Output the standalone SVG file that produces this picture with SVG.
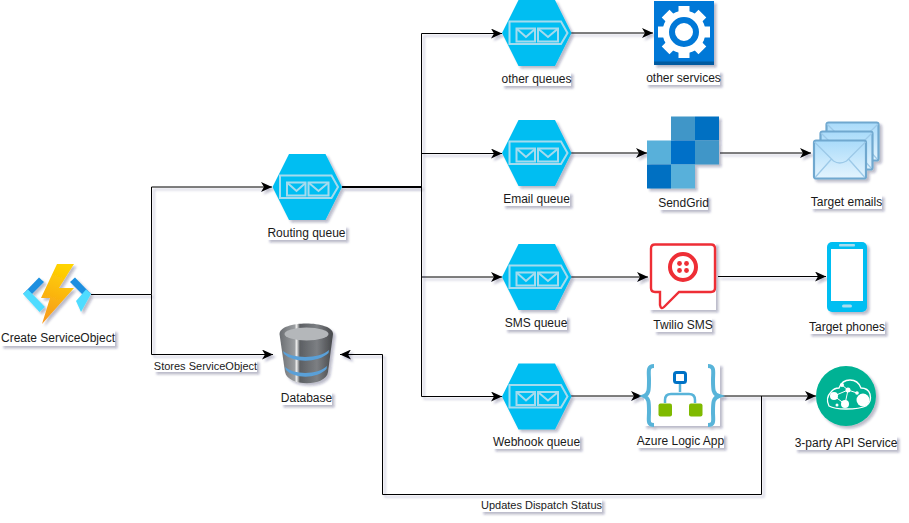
<svg xmlns="http://www.w3.org/2000/svg" xmlns:xlink="http://www.w3.org/1999/xlink" width="909" height="523" viewBox="0 0 909 523">
<style>
text{font-family:"Liberation Sans",Arial,sans-serif;font-size:12px;fill:#1a1a1a;text-anchor:middle}
.bg{fill:#fff}
.lbl,.ico,#connectors{filter:url(#sh)}
.c{fill:none;stroke:#000;stroke-width:1}
.env{fill:none;stroke:#a5dbee;stroke-width:2}
</style>
<defs>
<filter id="sh" x="-20%" y="-20%" width="140%" height="140%" filterUnits="userSpaceOnUse" primitiveUnits="userSpaceOnUse">
<feDropShadow dx="2.5" dy="2.5" stdDeviation="1.3" flood-color="#1a1a50" flood-opacity="0.3"/>
</filter>
<marker id="a" viewBox="0 0 12 10" refX="11" refY="5" markerWidth="12" markerHeight="10" markerUnits="userSpaceOnUse" orient="auto"><path d="M0 0L11 5L0 10L3 5Z" fill="#000"/></marker>
<linearGradient id="bolt" x1="0.6" y1="0" x2="0.4" y2="1"><stop offset="0" stop-color="#ffd400"/><stop offset="1" stop-color="#f79a1e"/></linearGradient>
<linearGradient id="db" x1="0" y1="0" x2="1" y2="0"><stop offset="0" stop-color="#6a6d71"/><stop offset="0.28" stop-color="#9a9da0"/><stop offset="0.32" stop-color="#ececec"/><stop offset="0.38" stop-color="#5c5f63"/><stop offset="0.7" stop-color="#7c7f83"/><stop offset="1" stop-color="#45474a"/></linearGradient>
<linearGradient id="envg" x1="0" y1="0" x2="0" y2="1"><stop offset="0" stop-color="#a9dbfa"/><stop offset="1" stop-color="#e4f4fe"/></linearGradient>
<g id="hex">
<path d="M0 33L16.500 0H53L69.500 33L53 66H16.500Z" fill="#00bef2"/>
<path class="env" d="M7.500 21.500H59L65.500 33L59 44H7.500Z"/>
<rect class="env" x="14.500" y="28.500" width="18.500" height="13"/>
<path class="env" d="M15 29L24 37L33 29"/>
<rect class="env" x="36" y="28.500" width="20" height="13"/>
<path class="env" d="M36.500 29L46 37L55.500 29"/>
</g>
<g id="mail">
<rect x="0.500" y="0.500" width="52" height="38" rx="2" fill="url(#envg)" stroke="#6fa8cf" stroke-width="2.200"/>
<path d="M1 2L20 21Q26 25 33 21L52 2M2 37L18 19M51 37L35 19" fill="none" stroke="#9cc9e8" stroke-width="1.300"/>
</g>
</defs>
<g id="connectors">
<path class="c" d="M91 294.500H151.500V187H272" marker-end="url(#a)"/>
<path class="c" d="M151.500 294.500V354.500H273" marker-end="url(#a)"/>
<path class="c" d="M342 186.500H421.500V33.500H502" marker-end="url(#a)"/>
<path class="c" d="M342 187.500H421.500V153.500H502" marker-end="url(#a)"/>
<path class="c" d="M342 187H421.500V277H502" marker-end="url(#a)"/>
<path class="c" d="M342 187H421.500V396.500H502" marker-end="url(#a)"/>
<path class="c" d="M571 33H653" marker-end="url(#a)"/>
<path class="c" d="M571 153H647" marker-end="url(#a)"/>
<path class="c" d="M571 277H648" marker-end="url(#a)"/>
<path class="c" d="M571 396H642" marker-end="url(#a)"/>
<path class="c" d="M720 153H811" marker-end="url(#a)"/>
<path class="c" d="M718 276.500H826" marker-end="url(#a)"/>
<path class="c" d="M719 396H816" marker-end="url(#a)"/>
<path class="c" d="M761.500 396V494.500H382.500V354.500H340" marker-end="url(#a)"/>
</g>
<g id="create-serviceobject">
<g class="ico">
<path d="M23 294L39 277.500L44 282L32 294Z" fill="#1a8fe0"/>
<path d="M23 294L28 289.500L45 307L39.500 312Z" fill="#50dcff"/>
<path d="M91 294L75 277.500L70 282L82 294Z" fill="#1a8fe0"/>
<path d="M91 294L86 289.500L76 301L81 312Z" fill="#50dcff"/>
<path d="M57 264H74L59 288H74L42 324L50 298H41Z" fill="url(#bolt)"/>
</g>
<g class="lbl"><rect class="bg" x="1" y="330" width="114" height="16"/></g>
<text x="58" y="342">Create ServiceObject</text>
</g>
<g id="routing-queue">
<use href="#hex" x="272.500" y="154" class="ico"/>
<g class="lbl"><rect class="bg" x="267" y="226" width="79" height="14"/></g>
<text x="306.500" y="237">Routing queue</text>
</g>
<g id="database">
<g class="ico">
<path d="M279.500 334C279.500 320 333 320 333 334L328 372C326 387 288 387 285 372Z" fill="url(#db)"/>
<ellipse cx="306.500" cy="334" rx="22" ry="6.500" fill="#b4b7ba"/>
<path d="M283 351C292 359 320 359 329 350L328.500 353C318 363 294 363 284 354Z" fill="#5aa0d8"/>
<path d="M285 367C294 375 318 375 327 366L326.500 369C317 379 295 379 286 370Z" fill="#5aa0d8"/>
</g>
<g class="lbl"><rect class="bg" x="281" y="392" width="51" height="13"/></g>
<text x="306.500" y="402">Database</text>
</g>
<g id="stores-label">
<g class="lbl"><rect class="bg" x="154" y="360" width="103" height="12"/></g>
<text x="205.500" y="369.500" style="font-size:11px">Stores ServiceObject</text>
</g>
<g id="other-queues">
<use href="#hex" x="502" y="0" class="ico"/>
<g class="lbl"><rect class="bg" x="502" y="72" width="69" height="14"/></g>
<text x="536.500" y="83">other queues</text>
</g>
<g id="email-queue">
<use href="#hex" x="502" y="120" class="ico"/>
<g class="lbl"><rect class="bg" x="503" y="192" width="67" height="14"/></g>
<text x="536.500" y="203">Email queue</text>
</g>
<g id="sms-queue">
<use href="#hex" x="502" y="244" class="ico"/>
<g class="lbl"><rect class="bg" x="505" y="316" width="62" height="14"/></g>
<text x="536" y="327">SMS queue</text>
</g>
<g id="webhook-queue">
<use href="#hex" x="502" y="363.500" class="ico"/>
<g class="lbl"><rect class="bg" x="493" y="435" width="87" height="14"/></g>
<text x="536.500" y="446">Webhook queue</text>
</g>
<g id="other-services">
<g class="ico">
<rect x="654" y="1" width="60" height="64" fill="#0078d7"/>
<rect x="654" y="61.500" width="60" height="3.500" fill="#005aa0"/>
<circle cx="684" cy="32" r="21.500" fill="#fff"/>
<g fill="#fff"><path id="t" d="M678.500 6h11v7h-11zM678.500 51h11v7h-11zM658 26.500h7v11h-7zM703 26.500h7v11h-7z"/>
<path d="M678.500 6h11v7h-11zM678.500 51h11v7h-11zM658 26.500h7v11h-7zM703 26.500h7v11h-7z" transform="rotate(45 684 32)"/></g>
<circle cx="684" cy="32" r="12" fill="none" stroke="#0078d7" stroke-width="6"/>
</g>
<g class="lbl"><rect class="bg" x="646" y="71" width="74" height="14"/></g>
<text x="683.500" y="82">other services</text>
</g>
<g id="sendgrid">
<g class="ico">
<rect x="671" y="116.500" width="24" height="24" fill="#3f96c8"/>
<rect x="695" y="116.500" width="24" height="24" fill="#0070c2"/>
<rect x="647" y="140.500" width="24" height="24" fill="#58b0da"/>
<rect x="671" y="140.500" width="24" height="24" fill="#0070c8"/>
<rect x="695" y="140.500" width="24" height="24" fill="#3f96c8"/>
<rect x="647" y="164.500" width="24" height="24" fill="#0070c2"/>
<rect x="671" y="164.500" width="24" height="24" fill="#58b0da"/>
</g>
<g class="lbl"><rect class="bg" x="659" y="196" width="49" height="14"/></g>
<text x="683.500" y="207">SendGrid</text>
</g>
<g id="twilio-sms">
<g class="ico">
<rect x="649" y="243" width="67" height="67" fill="#fff"/>
<path d="M655 244.500H711Q715 244.500 715 248.500V288Q715 292 711 292H679L664 307Q661 310 660 305V292H655Q651 292 651 288V248.500Q651 244.500 655 244.500Z" fill="#fff" stroke="#ee2d36" stroke-width="2.400"/>
<circle cx="683" cy="267" r="13" fill="none" stroke="#ee2d36" stroke-width="4"/>
<circle cx="679.500" cy="263.500" r="2.400" fill="#ee2d36"/><circle cx="686.500" cy="263.500" r="2.400" fill="#ee2d36"/><circle cx="679.500" cy="270.500" r="2.400" fill="#ee2d36"/><circle cx="686.500" cy="270.500" r="2.400" fill="#ee2d36"/>
</g>
<g class="lbl"><rect class="bg" x="654" y="318" width="58" height="14"/></g>
<text x="683" y="329">Twilio SMS</text>
</g>
<g id="azure-logic-app">
<g class="ico">
<rect x="644" y="364" width="76" height="62" fill="#fff"/>
<path d="M654 366C647 366 649 372 649 380C649 390 649 394 644 396C649 398 649 402 649 412C649 420 647 425 654 425" fill="none" stroke="#59b4d9" stroke-width="4"/>
<path d="M708 366C715 366 713 372 713 380C713 390 713 394 719 396C713 398 713 402 713 412C713 420 715 425 708 425" fill="none" stroke="#59b4d9" stroke-width="4"/>
<path d="M680 384V392M665 403V400Q665 394 671 394H689Q695 394 695 400V403" fill="none" stroke="#59b4d9" stroke-width="2.500"/>
<rect x="674.500" y="372.500" width="11" height="10" rx="2" fill="#fff" stroke="#0072c6" stroke-width="3"/>
<rect x="658.500" y="403.500" width="13.500" height="13" rx="2" fill="#7fba00"/>
<rect x="689" y="403.500" width="13.500" height="13" rx="2" fill="#7fba00"/>
</g>
<g class="lbl"><rect class="bg" x="637" y="434" width="87" height="14"/></g>
<text x="680.500" y="445">Azure Logic App</text>
</g>
<g id="target-emails">
<g class="ico"><use href="#mail" x="826" y="122"/><use href="#mail" x="820" y="131"/><use href="#mail" x="813.500" y="140"/></g>
<g class="lbl"><rect class="bg" x="811" y="195" width="71" height="14"/></g>
<text x="846.500" y="206">Target emails</text>
</g>
<g id="target-phones">
<g class="ico">
<rect x="827" y="242" width="40" height="70" rx="5" fill="#00bef2"/>
<rect x="831" y="249" width="32" height="52" fill="#fff"/>
<rect x="839" y="244" width="16" height="2.500" rx="1" fill="#a9dcee"/>
<rect x="842" y="304.500" width="10" height="3" rx="1.500" fill="#a9dcee"/>
</g>
<g class="lbl"><rect class="bg" x="809" y="320" width="76" height="14"/></g>
<text x="847" y="331">Target phones</text>
</g>
<g id="api-service">
<g class="ico">
<circle cx="846" cy="396" r="30" fill="#00b294"/>
<path d="M829 406Q825 398 831 392Q834 388 839 388Q842 380 850 380Q858 380 861 388Q868 388 870 394Q872 402 866 406Q860 409 846 409Q834 409 829 406Z" fill="none" stroke="#fff" stroke-width="1.300"/>
<circle cx="863" cy="400" r="6.500" fill="#fff"/><circle cx="834" cy="396" r="4" fill="#fff"/><circle cx="845" cy="404" r="4" fill="#fff"/><circle cx="848" cy="390" r="2.500" fill="#fff"/><circle cx="842" cy="385" r="2" fill="#fff"/><circle cx="857" cy="393" r="1.800" fill="#fff"/><circle cx="837" cy="405" r="1.500" fill="#fff"/>
<path d="M834 396L848 390L842 385M848 390L845 404L834 396M848 390L857 393" fill="none" stroke="#fff" stroke-width="1"/>
</g>
<g class="lbl"><rect class="bg" x="795" y="436" width="102" height="14"/></g>
<text x="846" y="447">3-party API Service</text>
</g>
<g id="updates-label">
<g class="lbl"><rect class="bg" x="481" y="499" width="121" height="13"/></g>
<text x="541.500" y="509" style="font-size:11px">Updates Dispatch Status</text>
</g>
</svg>
